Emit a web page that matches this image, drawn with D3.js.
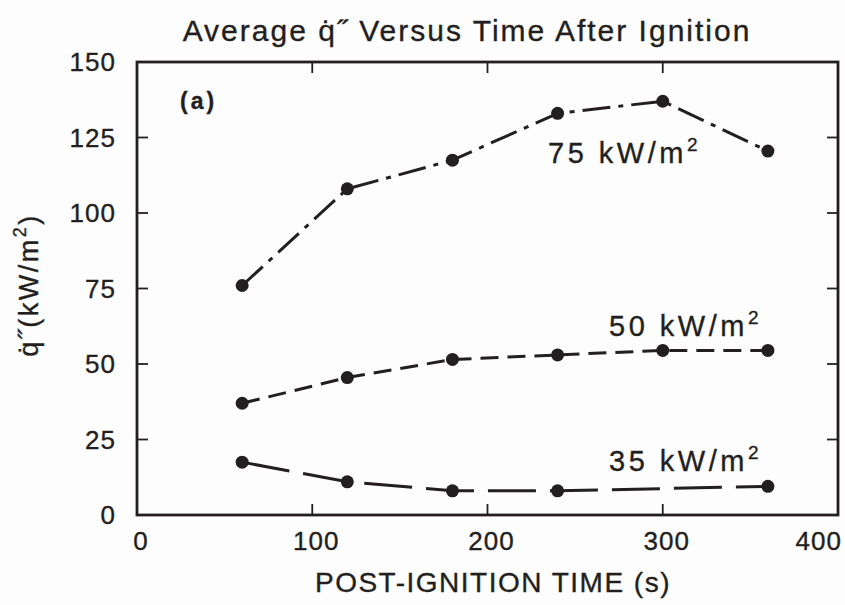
<!DOCTYPE html>
<meta charset="utf-8">
<style>
  body { margin: 0; background: #fdfdfd; }
  text { font-family: "Liberation Sans", Arial, sans-serif; fill: #231f20; stroke: #231f20; stroke-width: 0.35px; }
</style>
<body>
<div id="chart"></div>
<script src="https://d3js.org/d3.v7.min.js"></script>
<script>
  // post-ignition times (s)
  const times = [60, 120, 180, 240, 300, 360];
  const times35 = [60, 120, 180, 240, 360];

  // average heat release rate (kW/m2) per exposure
  const q75 = [76, 108, 117.5, 133, 137, 120.5];
  const q50 = [37, 45.5, 51.5, 53, 54.5, 54.5];
  const q35 = [17.5, 11, 8, 8, 9.5];

  const xTicks = [0, 100, 200, 300, 400];
  const yTicks = [0, 25, 50, 75, 100, 125, 150];

  const width = 845, height = 605;
  const margin = { left: 137, right: 7, top: 62, bottom: 90 };

  const svg = d3.select('#chart').
      append('svg').
      attr('width', width).
      attr('height', height);

  const x = d3.scaleLinear().domain([0, 400]).range([margin.left, width - margin.right]);
  const y = d3.scaleLinear().domain([0, 150]).range([height - margin.bottom, margin.top]);

  const ink = '#231f20';

  // ticks on all four sides, pointing in
  const tickLen = 11;
  const g = svg.append('g').attr('stroke', ink).attr('stroke-width', 1.8);
  yTicks.slice(1, -1).forEach(v => {
    g.append('line').attr('x1', x(0)).attr('x2', x(0) + tickLen).attr('y1', y(v)).attr('y2', y(v));
    g.append('line').attr('x1', x(400)).attr('x2', x(400) - tickLen).attr('y1', y(v)).attr('y2', y(v));
  });
  xTicks.slice(1, -1).forEach(v => {
    g.append('line').attr('x1', x(v)).attr('x2', x(v)).attr('y1', y(0)).attr('y2', y(0) - tickLen);
    g.append('line').attr('x1', x(v)).attr('x2', x(v)).attr('y1', y(150)).attr('y2', y(150) + tickLen);
  });

  // frame
  svg.append('rect').
      attr('x', x(0)).attr('y', y(150)).
      attr('width', x(400) - x(0)).attr('height', y(0) - y(150)).
      attr('fill', 'none').attr('stroke', ink).attr('stroke-width', 2.8);

  // tick labels
  svg.selectAll('.ylab').data(yTicks).enter().append('text').
      attr('x', x(0) - 21).
      attr('y', d => y(d) + 9).
      attr('text-anchor', 'end').
      attr('font-size', 26).
      attr('letter-spacing', 1).
      text(d => d);

  svg.selectAll('.xlab').data(xTicks).enter().append('text').
      attr('x', d => d === 400 ? width - 3 : x(d) + 4).
      attr('y', y(0) + 35).
      attr('text-anchor', d => d === 400 ? 'end' : 'middle').
      attr('font-size', 26).
      attr('letter-spacing', 1).
      text(d => d);

  // series
  const series = [
    { t: times, q: q75, dash: '28,8,5,8' },
    { t: times, q: q50, dash: '18,9' },
    { t: times35, q: q35, dash: '48,14' }
  ];

  const line = d3.line().x(d => x(d[0])).y(d => y(d[1]));

  series.forEach(s => {
    const pts = s.t.map((t, i) => [t, s.q[i]]);
    svg.append('path').
        datum(pts).
        attr('d', line).
        attr('fill', 'none').
        attr('stroke', ink).
        attr('stroke-width', 3).
        attr('stroke-dasharray', s.dash);
    svg.selectAll(null).data(pts).enter().append('circle').
        attr('cx', d => x(d[0])).
        attr('cy', d => y(d[1])).
        attr('r', 6.5).
        attr('fill', ink);
  });

  // series labels
  const labels = [
    { n: '75', x: 548, y: 163 },
    { n: '50', x: 609, y: 336 },
    { n: '35', x: 609, y: 471 }
  ];
  labels.forEach(l => {
    const tx = svg.append('text').attr('x', l.x).attr('y', l.y).
        attr('font-size', 29).attr('letter-spacing', 3.5);
    tx.append('tspan').text(l.n + ' kW/m');
    tx.append('tspan').attr('dy', -12).attr('font-size', 19).text('2');
  });

  svg.append('text').
      attr('x', 180).attr('y', 109).
      attr('font-size', 23).attr('font-weight', 'bold').
      attr('letter-spacing', 3).
      text('(a)');

  // title
  svg.append('text').
      attr('x', 467).attr('y', 41).
      attr('text-anchor', 'middle').
      attr('font-size', 30).
      attr('letter-spacing', 2).
      text('Average q\u0307\u02DD Versus Time After Ignition');

  // axis titles
  svg.append('text').
      attr('x', 493).
      attr('y', 592).
      attr('text-anchor', 'middle').
      attr('font-size', 28).
      attr('letter-spacing', 1.5).
      text('POST-IGNITION TIME (s)');

  const yl = svg.append('text').
      attr('transform', 'translate(38,285) rotate(-90)').
      attr('text-anchor', 'middle').
      attr('font-size', 27).
      attr('letter-spacing', 2.5);
  yl.append('tspan').text('q\u0307\u02DD(kW/m');
  yl.append('tspan').attr('dy', -12).attr('font-size', 18).text('2');
  yl.append('tspan').attr('dy', 12).text(')');
</script>
